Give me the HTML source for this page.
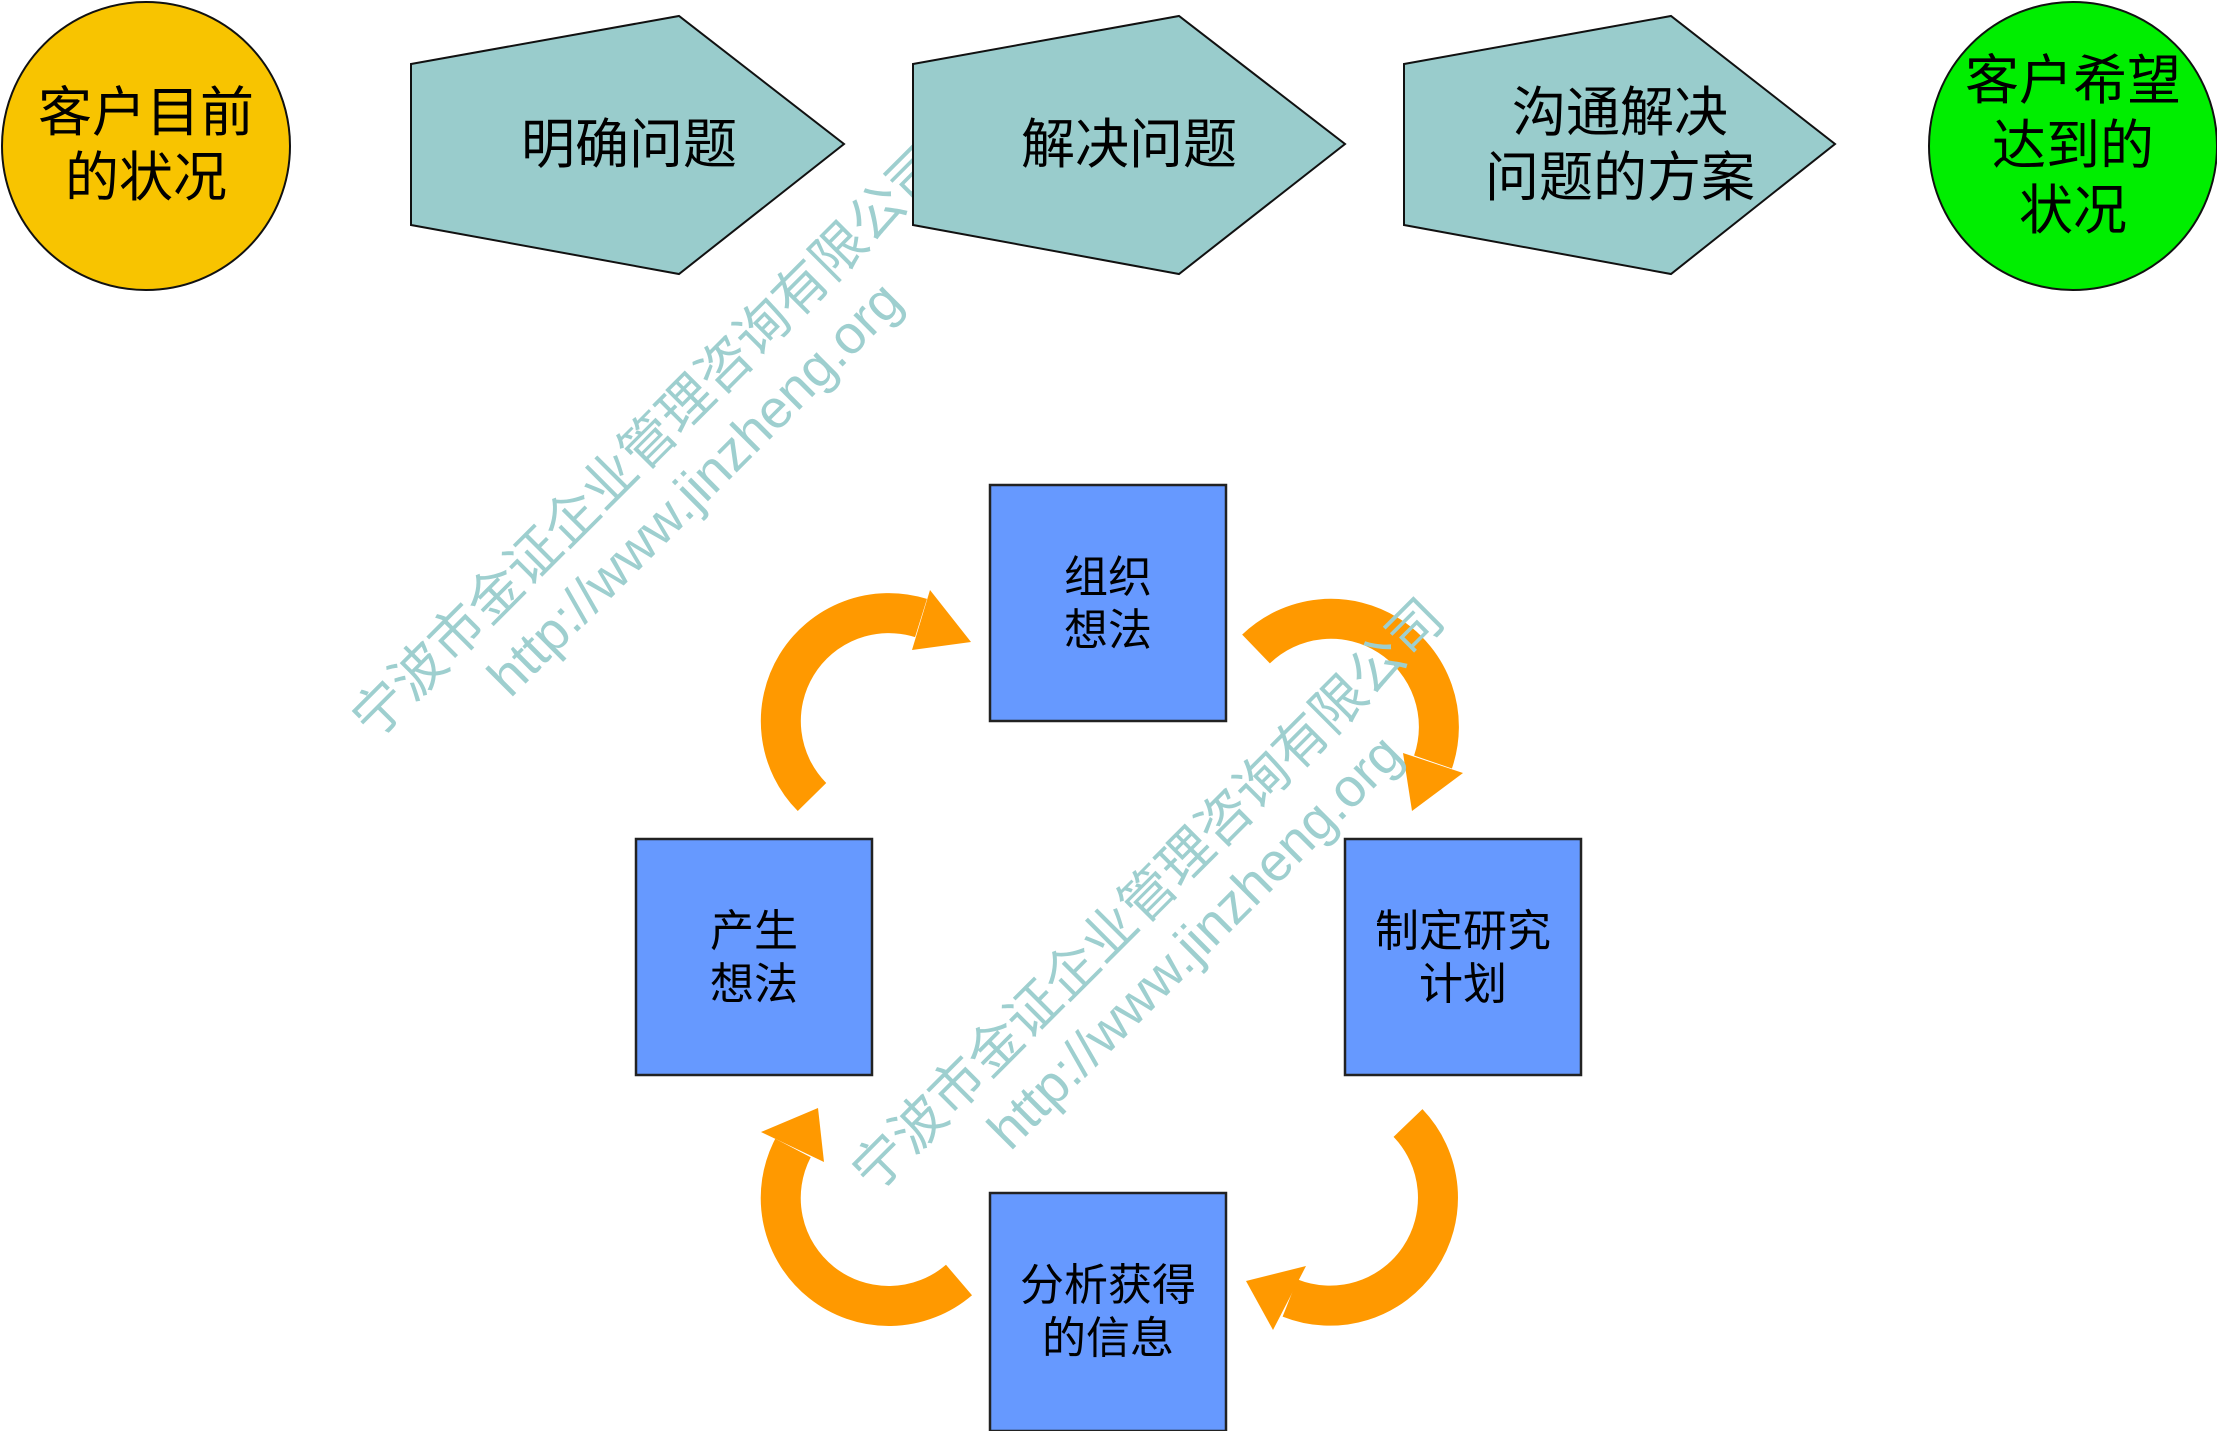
<!DOCTYPE html>
<html><head><meta charset="utf-8"><style>
html,body{margin:0;padding:0;background:#fff;}
svg{display:block;}
text{font-family:"Liberation Sans","Noto Sans CJK SC",sans-serif;}
</style></head><body>
<svg width="2217" height="1431" viewBox="0 0 2217 1431" xmlns="http://www.w3.org/2000/svg">
<g fill="none" stroke="#FF9900" stroke-width="40">
<path d="M812 797 A108 108 0 0 1 921 618"/>
<path d="M1256 649 A108 108 0 0 1 1433 762"/>
<path d="M1408 1123 A108 108 0 0 1 1290 1298"/>
<path d="M959 1280 A108 108 0 0 1 793 1148"/>
</g>
<g fill="#FF9900">
<polygon points="971,642 930,590 912,650"/>
<polygon points="1412,811 1463,773 1403,753"/>
<polygon points="1246,1281 1273,1330 1306,1266"/>
<polygon points="818,1108 761,1132 824,1162"/>
</g>
<g fill="#6699FF" stroke="#222" stroke-width="2.5">
<rect x="990" y="485" width="236" height="236"/>
<rect x="636" y="839" width="236" height="236"/>
<rect x="1345" y="839" width="236" height="236"/>
<rect x="990" y="1193" width="236" height="238"/>
</g>
<g font-size="44" text-anchor="middle" fill="#000">
<text x="1108" y="592">组织</text><text x="1108" y="645">想法</text>
<text x="754" y="946">产生</text><text x="754" y="999">想法</text>
<text x="1463" y="946">制定研究</text><text x="1463" y="999">计划</text>
<text x="1108" y="1300">分析获得</text><text x="1108" y="1353">的信息</text>
</g>
<g fill="#9ECFCF" font-size="54" text-anchor="middle">
<g transform="translate(668,462) rotate(-45)">
<text x="0" y="-10">宁波市金证企业管理咨询有限公司</text>
<text x="0" y="56">http://www.jinzheng.org</text>
</g>
<g transform="translate(1168,915) rotate(-45)">
<text x="0" y="-10">宁波市金证企业管理咨询有限公司</text>
<text x="0" y="56">http://www.jinzheng.org</text>
</g>
</g>
<circle cx="146" cy="146" r="144" fill="#F8C400" stroke="#111" stroke-width="2"/>
<circle cx="2073" cy="146" r="144" fill="#00EE00" stroke="#111" stroke-width="2"/>
<g fill="#99CCCC" stroke="#111" stroke-width="2">
<polygon points="411,64 679,16 844,144 679,274 411,225"/>
<polygon points="913,64 1179,16 1345,144 1179,274 913,225"/>
<polygon points="1404,64 1671,16 1835,144 1671,274 1404,225"/>
</g>
<g font-size="54" text-anchor="middle" fill="#000">
<text x="146" y="131">客户目前</text><text x="146" y="196">的状况</text>
<text x="2073" y="99">客户希望</text><text x="2073" y="164">达到的</text><text x="2073" y="229">状况</text>
<text x="629" y="163">明确问题</text>
<text x="1129" y="163">解决问题</text>
<text x="1620" y="131">沟通解决</text><text x="1620" y="196">问题的方案</text>
</g>
</svg>
</body></html>
